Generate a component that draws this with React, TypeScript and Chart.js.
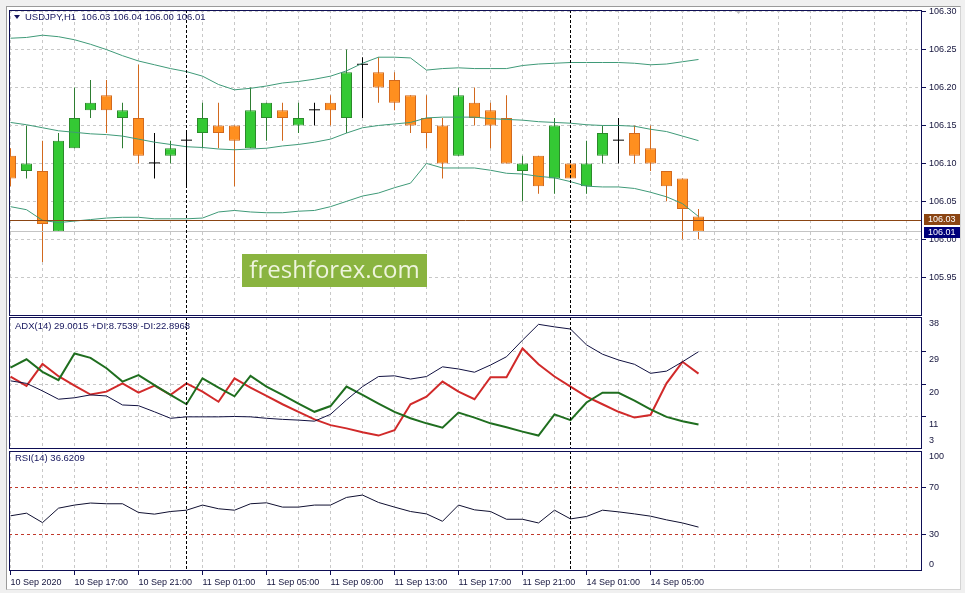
import React, { useEffect, useRef } from 'react';
import { Chart, registerables } from 'chart.js';

Chart.register(...registerables);

const FONT = "'Liberation Sans', 'DejaVu Sans', Arial, sans-serif";
Chart.defaults.font.family = FONT;
Chart.defaults.font.size = 9;

// ---------- DATA ----------
const symbolTitle = 'USDJPY,H1  106.03 106.04 106.00 106.01';
const adxTitle = 'ADX(14) 29.0015 +DI:8.7539 -DI:22.8968';
const rsiTitle = 'RSI(14) 36.6209';
const watermark = 'freshforex.com';

const openP = [106.11, 106.09, 106.09, 106.01, 106.12, 106.17, 106.19, 106.16, 106.16, 106.10, 106.11, 106.13, 106.14, 106.15, 106.15, 106.12, 106.16, 106.17, 106.15, 106.17, 106.18, 106.16, 106.23, 106.22, 106.21, 106.19, 106.16, 106.15, 106.11, 106.18, 106.17, 106.16, 106.09, 106.11, 106.08, 106.10, 106.07, 106.11, 106.13, 106.14, 106.12, 106.09, 106.08, 106.03];
const highP = [106.12, 106.15, 106.13, 106.14, 106.20, 106.21, 106.21, 106.18, 106.23, 106.14, 106.13, 106.14, 106.18, 106.18, 106.15, 106.20, 106.18, 106.18, 106.18, 106.18, 106.19, 106.25, 106.24, 106.24, 106.22, 106.19, 106.19, 106.16, 106.20, 106.20, 106.18, 106.19, 106.11, 106.11, 106.16, 106.10, 106.13, 106.15, 106.16, 106.15, 106.15, 106.09, 106.08, 106.04];
const lowP = [106.07, 106.08, 105.97, 106.01, 106.12, 106.16, 106.14, 106.12, 106.10, 106.08, 106.10, 106.07, 106.12, 106.12, 106.07, 106.12, 106.13, 106.13, 106.14, 106.15, 106.15, 106.14, 106.16, 106.18, 106.17, 106.14, 106.12, 106.08, 106.11, 106.15, 106.12, 106.10, 106.05, 106.06, 106.06, 106.08, 106.06, 106.10, 106.10, 106.10, 106.09, 106.05, 106.00, 106.00];
const closeP = [106.08, 106.10, 106.02, 106.13, 106.16, 106.18, 106.17, 106.17, 106.11, 106.10, 106.12, 106.13, 106.16, 106.14, 106.13, 106.17, 106.18, 106.16, 106.16, 106.17, 106.17, 106.22, 106.23, 106.20, 106.18, 106.15, 106.14, 106.10, 106.19, 106.16, 106.15, 106.10, 106.10, 106.07, 106.15, 106.08, 106.10, 106.14, 106.13, 106.11, 106.10, 106.07, 106.04, 106.01];

const bbUpper = [106.265, 106.266, 106.269, 106.267, 106.263, 106.257, 106.250, 106.242, 106.235, 106.230, 106.225, 106.221, 106.215, 106.204, 106.197, 106.199, 106.202, 106.206, 106.208, 106.211, 106.215, 106.222, 106.232, 106.240, 106.240, 106.239, 106.223, 106.225, 106.226, 106.225, 106.225, 106.225, 106.229, 106.231, 106.232, 106.233, 106.233, 106.233, 106.233, 106.232, 106.230, 106.231, 106.234, 106.237];
const bbMiddle = [106.154, 106.151, 106.147, 106.143, 106.141, 106.139, 106.138, 106.136, 106.132, 106.128, 106.125, 106.122, 106.121, 106.119, 106.118, 106.119, 106.120, 106.123, 106.125, 106.128, 106.132, 106.140, 106.147, 106.150, 106.152, 106.154, 106.160, 106.161, 106.161, 106.161, 106.159, 106.158, 106.157, 106.155, 106.154, 106.153, 106.151, 106.150, 106.150, 106.149, 106.145, 106.142, 106.136, 106.130];
const bbLower = [106.043, 106.039, 106.025, 106.022, 106.024, 106.026, 106.028, 106.029, 106.029, 106.027, 106.027, 106.027, 106.028, 106.036, 106.038, 106.036, 106.035, 106.035, 106.037, 106.038, 106.043, 106.050, 106.057, 106.061, 106.068, 106.074, 106.100, 106.094, 106.094, 106.094, 106.091, 106.087, 106.086, 106.083, 106.081, 106.076, 106.070, 106.069, 106.069, 106.067, 106.062, 106.056, 106.047, 106.030];

const plusDI = [24.6, 26.9, 23.4, 21.1, 28.5, 27.3, 24.4, 20.7, 22.5, 19.7, 17.0, 14.4, 21.6, 19.0, 16.6, 22.3, 19.3, 17.0, 14.6, 12.3, 13.9, 19.3, 17.0, 14.6, 12.3, 10.5, 9.1, 7.9, 12.1, 10.7, 9.1, 8.0, 6.8, 5.7, 11.6, 10.0, 14.9, 17.6, 17.6, 15.4, 13.0, 10.9, 9.7, 8.75];
const minusDI = [22.1, 19.5, 25.6, 22.2, 19.6, 17.1, 17.9, 20.2, 17.6, 19.6, 17.0, 20.2, 17.9, 15.1, 21.6, 19.0, 16.7, 14.4, 12.3, 10.2, 8.6, 7.7, 6.6, 5.7, 7.2, 14.4, 16.5, 20.7, 17.9, 15.8, 21.9, 21.9, 29.9, 25.5, 22.1, 19.3, 16.5, 14.4, 12.3, 10.7, 11.4, 20.2, 26.2, 22.9];
const adxMain = [20.9, 20.2, 18.1, 15.8, 16.2, 17.0, 16.7, 14.2, 14.0, 12.3, 10.5, 10.9, 10.9, 10.9, 11.0, 10.9, 10.5, 10.2, 10.0, 9.7, 11.6, 15.6, 19.3, 22.1, 22.3, 21.4, 22.1, 24.8, 24.2, 23.3, 25.3, 27.6, 32.2, 36.6, 35.9, 35.3, 30.9, 28.3, 26.7, 25.5, 23.0, 23.6, 26.2, 29.0];
const rsiValues = [46.1, 48.3, 40.4, 52.5, 55.1, 56.8, 56.2, 56.2, 48.9, 47.5, 49.7, 50.8, 55.1, 52.0, 50.8, 56.2, 57.0, 53.4, 53.4, 55.1, 55.1, 61.5, 63.5, 57.3, 53.4, 49.7, 47.7, 41.5, 55.1, 51.1, 49.7, 43.2, 43.2, 40.1, 50.8, 43.5, 45.5, 50.8, 49.4, 47.7, 45.8, 42.7, 40.1, 36.62];

const priceTicks = [105.95, 106.0, 106.05, 106.1, 106.15, 106.2, 106.25, 106.3];
const adxScaleLabels = [38, 29, 20, 11, 3];
const rsiScaleLabels = [100, 70, 30, 0];
const xTickBars = [0, 4, 8, 12, 16, 20, 24, 28, 32, 36, 40];
const xTickLabels = ['10 Sep 2020', '10 Sep 17:00', '10 Sep 21:00', '11 Sep 01:00', '11 Sep 05:00', '11 Sep 09:00', '11 Sep 13:00', '11 Sep 17:00', '11 Sep 21:00', '14 Sep 01:00', '14 Sep 05:00'];
const separatorBars = [11, 35];
const hLinePrice = 106.025;
const hLineLabel = '106.03';
const bidPrice = 106.01;
const bidLabel = '106.01';

// ---------- STYLE ----------
const NAVY = '#0e0e55';
const TEXT = '#14143c';
const GRID = '#c8c8c8';
const BAND = '#3f9a78';
const X_MIN = -0.09375;
const X_MAX = 56.96875;
const Y_AXIS_W = 43;

const idx = openP.map((_, i) => i);
const isDoji = (i: number) => closeP[i] === openP[i];
const isUp = (i: number) => closeP[i] > openP[i];
const bodyFill = idx.map((i) => (isDoji(i) ? '#000000' : isUp(i) ? '#34c934' : '#ff8f1f'));
const bodyBorder = idx.map((i) => (isDoji(i) ? '#000000' : isUp(i) ? '#2b8a2b' : '#d2691e'));
const bodyBorderW = idx.map((i) => (isDoji(i) ? 0 : 1));
const wickColor = idx.map((i) => (isDoji(i) ? '#000000' : isUp(i) ? '#2e7d32' : '#d2691e'));

function zeroPad(s: any) {
  s.paddingTop = 0; s.paddingBottom = 0; s.paddingLeft = 0; s.paddingRight = 0;
}
function evenBarTicks(s: any) {
  const t: any[] = [];
  for (let v = 0; v <= Math.floor(X_MAX); v += 2) t.push({ value: v });
  s.ticks = t;
}
function xScale(withLabels: boolean): any {
  return {
    type: 'linear', min: X_MIN, max: X_MAX, offset: false, bounds: 'data',
    afterBuildTicks: evenBarTicks,
    afterFit: (s: any) => { s.height = withLabels ? 22 : 0; zeroPad(s); },
    ticks: {
      display: withLabels, autoSkip: false, maxRotation: 0, minRotation: 0, align: 'start', padding: 2,
      color: TEXT, font: { size: 9, family: FONT },
      callback: (v: any) => { const k = xTickBars.indexOf(Number(v)); return k >= 0 ? xTickLabels[k] : ''; },
    },
    grid: {
      display: true, drawOnChartArea: true, drawTicks: withLabels, tickLength: 4, color: GRID, lineWidth: 1, offset: false,
      tickColor: (c: any) => (c.tick && xTickBars.includes(c.tick.value) ? NAVY : 'rgba(0,0,0,0)'), tickBorderDash: [],
    },
    border: { display: false, dash: [3, 3] },
  };
}
function yScale(min: number, max: number, tickVals: number[], fmt: (v: number) => string, gridColor: string, labelOffset = 0): any {
  return {
    type: 'linear', position: 'right', min, max, bounds: 'data',
    afterBuildTicks: (s: any) => { s.ticks = tickVals.map((v) => ({ value: v })); },
    afterFit: (s: any) => { s.width = Y_AXIS_W; zeroPad(s); },
    ticks: { autoSkip: false, padding: 3, labelOffset, color: TEXT, font: { size: 9, family: FONT }, callback: (v: any) => fmt(Number(v)) },
    grid: { color: gridColor, tickColor: NAVY, tickLength: 4, tickBorderDash: [], drawTicks: true, drawOnChartArea: true, lineWidth: 1 },
    border: { display: false, dash: [3, 3] },
  };
}

const framePlugin = {
  id: 'frame',
  afterDraw(chart: any) {
    const { ctx, chartArea: a } = chart;
    ctx.save();
    ctx.strokeStyle = NAVY; ctx.lineWidth = 1; ctx.setLineDash([]);
    ctx.strokeRect(a.left + 0.5, a.top + 0.5, a.right - a.left - 1, a.bottom - a.top - 1);
    ctx.restore();
  },
};
const separatorPlugin = {
  id: 'separators',
  afterDatasetsDraw(chart: any) {
    const { ctx, chartArea: a, scales } = chart;
    ctx.save();
    ctx.strokeStyle = '#000000'; ctx.lineWidth = 1; ctx.setLineDash([3, 2]);
    for (const b of separatorBars) {
      const x = Math.floor(scales.x.getPixelForValue(b)) + 0.5;
      ctx.beginPath(); ctx.moveTo(x, a.top); ctx.lineTo(x, a.bottom); ctx.stroke();
    }
    ctx.restore();
  },
};
function titlePlugin(text: string, x: number, y: number, triangle = false) {
  return {
    id: 'title_' + text.slice(0, 3),
    afterDraw(chart: any) {
      const ctx = chart.ctx;
      ctx.save();
      ctx.fillStyle = '#16165e';
      if (triangle) {
        ctx.beginPath(); ctx.moveTo(14, 15); ctx.lineTo(20, 15); ctx.lineTo(17, 19); ctx.closePath(); ctx.fill();
      }
      ctx.font = `9.5px ${FONT}`; ctx.textAlign = 'left'; ctx.textBaseline = 'middle';
      ctx.fillText(text, x, y);
      ctx.restore();
    },
  };
}
function edgeLabelsPlugin(top: string, topDy: number, bottom: string, bottomDy: number) {
  return {
    id: 'edge_' + top,
    afterDraw(chart: any) {
      const { ctx, chartArea: a, scales } = chart;
      ctx.save();
      ctx.fillStyle = TEXT; ctx.font = `9px ${FONT}`; ctx.textAlign = 'left'; ctx.textBaseline = 'middle';
      const x = scales.y.left + 7;
      ctx.fillText(top, x, a.top + topDy);
      ctx.fillText(bottom, x, a.bottom - bottomDy);
      ctx.restore();
    },
  };
}
const mainOverlayPlugin = {
  id: 'mainOverlay',
  afterDatasetsDraw(chart: any) {
    const { ctx, chartArea: a, scales } = chart;
    ctx.save();
    ctx.setLineDash([]); ctx.lineWidth = 1;
    const yb = Math.floor(scales.y.getPixelForValue(bidPrice)) + 0.5;
    ctx.strokeStyle = '#c4c4c4';
    ctx.beginPath(); ctx.moveTo(a.left, yb); ctx.lineTo(a.right, yb); ctx.stroke();
    const yh = Math.floor(scales.y.getPixelForValue(hLinePrice)) + 0.5;
    ctx.strokeStyle = '#8b4513';
    ctx.beginPath(); ctx.moveTo(a.left, yh); ctx.lineTo(a.right, yh); ctx.stroke();
    // watermark
    ctx.fillStyle = '#8ab440';
    ctx.fillRect(242, 254, 185, 33);
    ctx.fillStyle = '#eef4dc';
    ctx.font = "24px 'Open Sans', 'Noto Sans', sans-serif";
    ctx.textAlign = 'center'; ctx.textBaseline = 'middle';
    ctx.fillText(watermark, 334.5, 271);
    ctx.restore();
  },
  afterDraw(chart: any) {
    const { ctx, scales } = chart;
    ctx.save();
    const x0 = scales.y.left + 2;
    ctx.font = `9px ${FONT}`; ctx.textAlign = 'left'; ctx.textBaseline = 'middle';
    const yh = scales.y.getPixelForValue(hLinePrice);
    ctx.fillStyle = '#8b4513';
    ctx.fillRect(x0, Math.round(yh) - 6, 36, 11);
    ctx.fillStyle = '#ffffff';
    ctx.fillText(hLineLabel, x0 + 4, Math.round(yh) - 0.5);
    const yb = scales.y.getPixelForValue(bidPrice);
    ctx.fillStyle = '#00007a';
    ctx.fillRect(x0, Math.round(yb) - 5, 36, 11);
    ctx.fillStyle = '#ffffff';
    ctx.fillText(bidLabel, x0 + 4, Math.round(yb) + 0.5);
    // chart shift marker
    ctx.fillStyle = '#bdbdbd';
    ctx.beginPath(); ctx.moveTo(735, 10); ctx.lineTo(742, 10); ctx.lineTo(738.5, 14); ctx.closePath(); ctx.fill();
    ctx.restore();
  },
};

function mainConfig(): any {
  return {
    type: 'bar',
    data: {
      datasets: [
        { type: 'line', data: idx.map((i) => ({ x: i, y: bbUpper[i] })), borderColor: BAND, borderWidth: 1, pointRadius: 0, tension: 0, order: 0, clip: 0 },
        { type: 'line', data: idx.map((i) => ({ x: i, y: bbMiddle[i] })), borderColor: BAND, borderWidth: 1, pointRadius: 0, tension: 0, order: 0, clip: 0 },
        { type: 'line', data: idx.map((i) => ({ x: i, y: bbLower[i] })), borderColor: BAND, borderWidth: 1, pointRadius: 0, tension: 0, order: 0, clip: 0 },
        {
          type: 'bar', data: idx.map((i) => ({ x: i, y: [openP[i], closeP[i]] })),
          backgroundColor: bodyFill, borderColor: bodyBorder, borderWidth: bodyBorderW, borderSkipped: false,
          barThickness: 11, minBarLength: 1, grouped: false, inflateAmount: 0, order: 1, clip: 0,
        },
        {
          type: 'bar', data: idx.map((i) => ({ x: i, y: [lowP[i], highP[i]] })),
          backgroundColor: wickColor, borderWidth: 0, barThickness: 1, grouped: false, inflateAmount: 0, order: 2, clip: 0,
        },
      ],
    },
    options: {
      responsive: false, animation: false, devicePixelRatio: 1,
      layout: { padding: { left: 9, top: 10, right: 0, bottom: 0 }, autoPadding: false },
      plugins: { legend: { display: false }, tooltip: { enabled: false } },
      scales: {
        x: xScale(false),
        y: yScale(105.8989, 106.3022, priceTicks, (v) => v.toFixed(2), GRID),
      },
    },
    plugins: [mainOverlayPlugin, separatorPlugin, framePlugin, titlePlugin(symbolTitle, 25, 17.5, true)],
  };
}

function adxConfig(): any {
  return {
    type: 'line',
    data: {
      datasets: [
        { data: idx.map((i) => ({ x: i, y: adxMain[i] })), borderColor: '#101040', borderWidth: 1, pointRadius: 0, tension: 0 },
        { data: idx.map((i) => ({ x: i, y: plusDI[i] })), borderColor: '#1f6e1f', borderWidth: 2, pointRadius: 0, tension: 0 },
        { data: idx.map((i) => ({ x: i, y: minusDI[i] })), borderColor: '#d12a2a', borderWidth: 2, pointRadius: 0, tension: 0 },
      ],
    },
    options: {
      responsive: false, animation: false, devicePixelRatio: 1,
      layout: { padding: { left: 9, top: 1, right: 0, bottom: 0 }, autoPadding: false },
      plugins: { legend: { display: false }, tooltip: { enabled: false } },
      scales: {
        x: xScale(false),
        y: yScale(1.97, 38.64, adxScaleLabels.slice(1, -1), (v) => String(Math.round(v)), GRID, 8),
      },
    },
    plugins: [separatorPlugin, framePlugin, titlePlugin(adxTitle, 15, 10.7),
      edgeLabelsPlugin(String(adxScaleLabels[0]), 7, String(adxScaleLabels[adxScaleLabels.length - 1]), 8)],
  };
}

function rsiConfig(): any {
  return {
    type: 'line',
    data: {
      datasets: [
        { data: idx.map((i) => ({ x: i, y: rsiValues[i] })), borderColor: '#0f0f30', borderWidth: 1, pointRadius: 0, tension: 0 },
      ],
    },
    options: {
      responsive: false, animation: false, devicePixelRatio: 1,
      layout: { padding: { left: 9, top: 2, right: 0, bottom: 0 }, autoPadding: false },
      plugins: { legend: { display: false }, tooltip: { enabled: false } },
      scales: {
        x: xScale(true),
        y: yScale(-0.19, 100.44, rsiScaleLabels.slice(1, -1), (v) => String(Math.round(v)), '#c0392b'),
      },
    },
    plugins: [separatorPlugin, framePlugin, titlePlugin(rsiTitle, 15, 9.3),
      edgeLabelsPlugin(String(rsiScaleLabels[0]), 6, String(rsiScaleLabels[rsiScaleLabels.length - 1]), 6)],
  };
}

export default function App() {
  const r1 = useRef<HTMLCanvasElement>(null);
  const r2 = useRef<HTMLCanvasElement>(null);
  const r3 = useRef<HTMLCanvasElement>(null);
  useEffect(() => {
    document.body.style.margin = '0';
    const c1 = new Chart(r1.current as HTMLCanvasElement, mainConfig());
    const c2 = new Chart(r2.current as HTMLCanvasElement, adxConfig());
    const c3 = new Chart(r3.current as HTMLCanvasElement, rsiConfig());
    return () => { c1.destroy(); c2.destroy(); c3.destroy(); };
  }, []);
  const cv: any = { position: 'absolute', left: 0, display: 'block' };
  return (
    <div style={{ position: 'relative', width: 965, height: 593, background: '#f0f0f0', overflow: 'hidden' }}>
      <div style={{ position: 'absolute', left: 6, top: 6, width: 955, height: 584, background: '#ffffff', boxSizing: 'border-box', borderTop: '1px solid #9a9a9a', borderLeft: '1px solid #9a9a9a', borderRight: '1px solid #d4d4d4', borderBottom: '1px solid #d4d4d4' }} />
      <canvas ref={r1} width={965} height={316} style={{ ...cv, top: 0 }} />
      <canvas ref={r2} width={965} height={133} style={{ ...cv, top: 316 }} />
      <canvas ref={r3} width={965} height={144} style={{ ...cv, top: 449 }} />
    </div>
  );
}
